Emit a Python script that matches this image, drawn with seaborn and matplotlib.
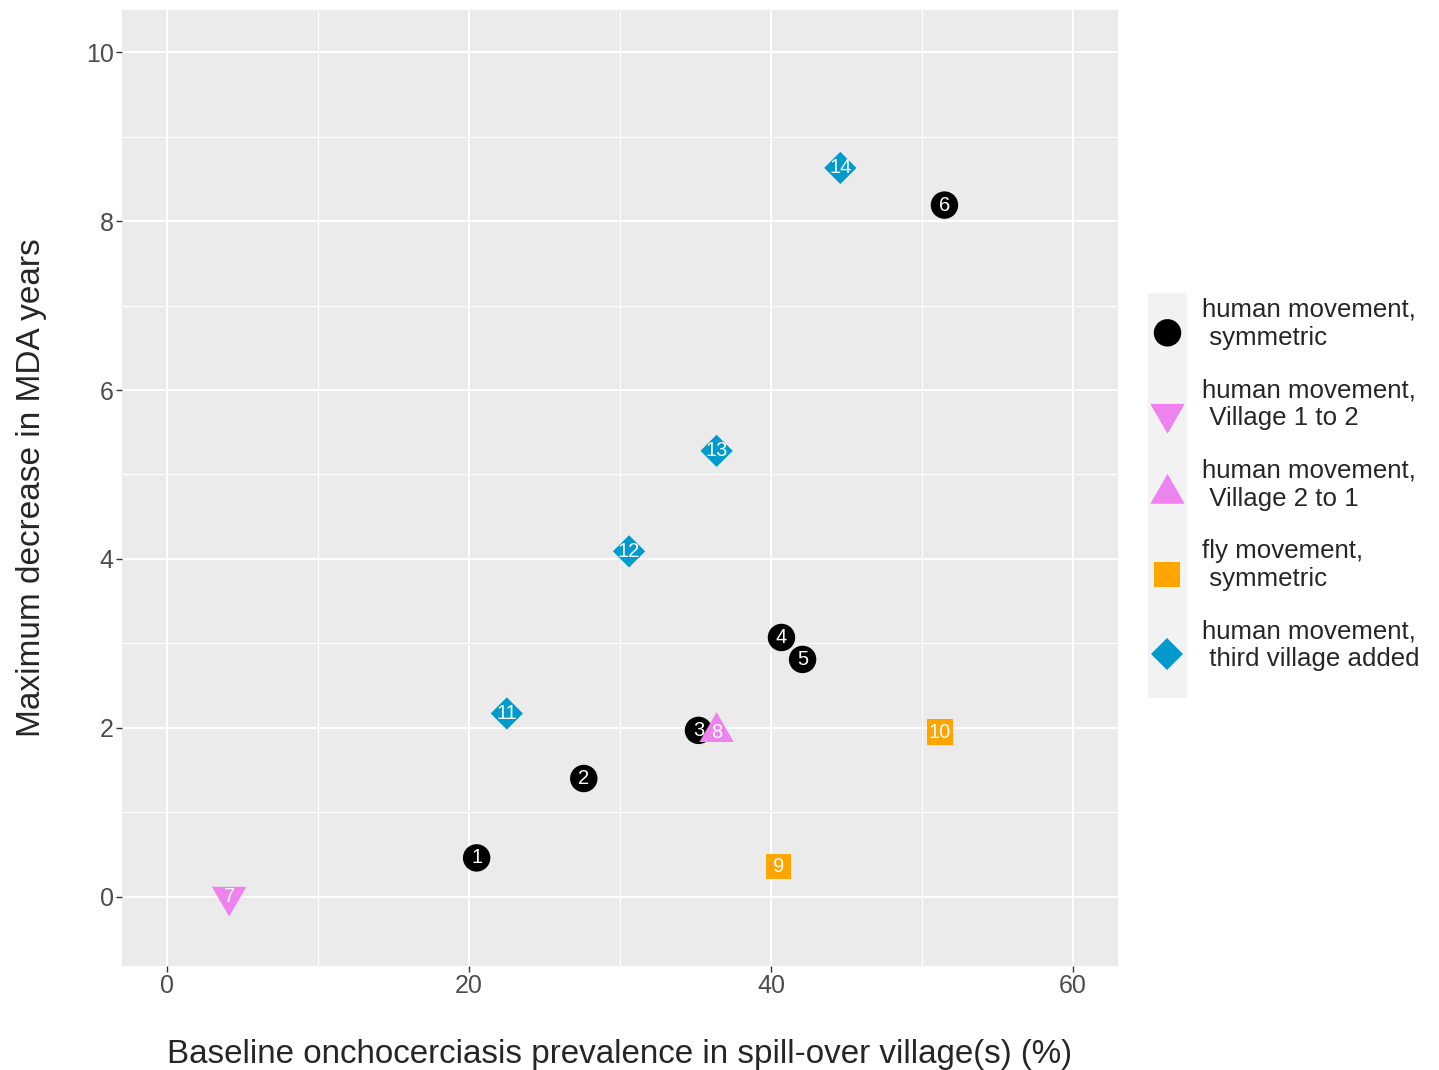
import matplotlib
matplotlib.use("Agg")
import matplotlib.pyplot as plt
from matplotlib.lines import Line2D
from matplotlib.markers import MarkerStyle
from matplotlib.patches import Rectangle
from matplotlib.transforms import Affine2D
import pandas as pd
import seaborn as sns

# scenario numbers, baseline prevalence (%) and max decrease in MDA years
scenario = [1, 2, 3, 4, 5, 6, 7, 8, 9, 10, 11, 12, 13, 14]
prevalence = [20.5, 27.6, 35.2, 40.7, 42.1, 51.5, 4.1, 36.4, 40.5, 51.2, 22.5, 30.6, 36.4, 44.6]
decrease = [0.46, 1.40, 1.97, 3.07, 2.81, 8.19, 0.0, 1.95, 0.36, 1.95, 2.17, 4.09, 5.28, 8.63]
group = ["hs", "hs", "hs", "hs", "hs", "hs", "h12", "h21", "fs", "fs", "h3", "h3", "h3", "h3"]

group_order = ["hs", "h12", "h21", "fs", "h3"]
group_labels = ["human movement,\n symmetric", "human movement,\n Village 1 to 2",
                "human movement,\n Village 2 to 1", "fly movement,\n symmetric",
                "human movement,\n third village added"]
colours = ["#000000", "#EE82EE", "#EE82EE", "#FFA500", "#009ACD"]

# triangles with centroid at the data point (like R's pch shapes)
tri_up = [(0, 1.155), (-1, -0.577), (1, -0.577), (0, 1.155)]
tri_down = [(0, -1.155), (-1, 0.577), (1, 0.577), (0, -1.155)]
markers = ["o", tri_down, tri_up, "s", "D"]
sizes = [390, 820, 820, 330, 270]

df = pd.DataFrame({"scenario": scenario, "x": prevalence, "y": decrease, "group": group})

sns.set_style("darkgrid", {"axes.facecolor": "#EBEBEB", "grid.color": "white"})
plt.rcParams["font.family"] = ["Liberation Sans", "DejaVu Sans"]

fig = plt.figure(figsize=(14.39, 10.70), dpi=100)
ax = fig.add_axes([122 / 1439, 1 - 966 / 1070, (1118 - 122) / 1439, (966 - 10) / 1070])

sns.scatterplot(data=df, x="x", y="y", hue="group", style="group", size="group",
                hue_order=group_order, style_order=group_order, size_order=group_order,
                palette=dict(zip(group_order, colours)),
                markers=dict(zip(group_order, markers)),
                sizes=dict(zip(group_order, sizes)),
                linewidth=0, legend=False, ax=ax, zorder=3)

for s, xx, yy in zip(scenario, prevalence, decrease):
    ax.text(xx, yy, str(s), color="white", fontsize=14.5, ha="center", va="center", zorder=4)

ax.set_xlim(-3, 63)
ax.set_ylim(-0.82, 10.5)
ax.set_xticks([0, 20, 40, 60])
ax.set_yticks([0, 2, 4, 6, 8, 10])
ax.set_xticks([10, 30, 50], minor=True)
ax.set_yticks([1, 3, 5, 7, 9], minor=True)
ax.grid(which="major", color="white", linewidth=1.4)
ax.grid(which="minor", color="white", linewidth=0.7)
ax.tick_params(which="major", length=4, width=1, color="#333333", labelsize=18,
               labelcolor="#4D4D4D", pad=2, bottom=True, left=True)
ax.tick_params(which="minor", length=0)
for sp in ax.spines.values():
    sp.set_visible(False)

ax.set_xlabel("Baseline onchocerciasis prevalence in spill-over village(s) (%)", fontsize=23.9, labelpad=29.5)
ax.set_ylabel("Maximum decrease in MDA years", fontsize=24, labelpad=28)

# legend: keys sit level with the second line of each label
handles = []
for g, c, m, s in zip(group_order, colours, markers, sizes):
    ms = s ** 0.5
    mk = MarkerStyle(m, transform=Affine2D().translate(0, -6.0 / ms))
    handles.append(Line2D([], [], linestyle="", marker=mk, color=c, markeredgewidth=0,
                          markersize=ms))
fig.patches.append(Rectangle((1148 / 1439, 1 - 698 / 1070), 39 / 1439, 405 / 1070,
                             transform=fig.transFigure, facecolor="#F2F2F2",
                             edgecolor="none", zorder=0))
leg = fig.legend(handles, group_labels, loc="center left", bbox_to_anchor=(1148 / 1439, 0.547),
                 frameon=False, fontsize=18.6, handlelength=1.5, handletextpad=0.6,
                 labelspacing=1.09, borderpad=0, borderaxespad=0)
for t in leg.get_texts():
    t.set_linespacing(1.22)

fig.savefig("out.png", dpi=100)
